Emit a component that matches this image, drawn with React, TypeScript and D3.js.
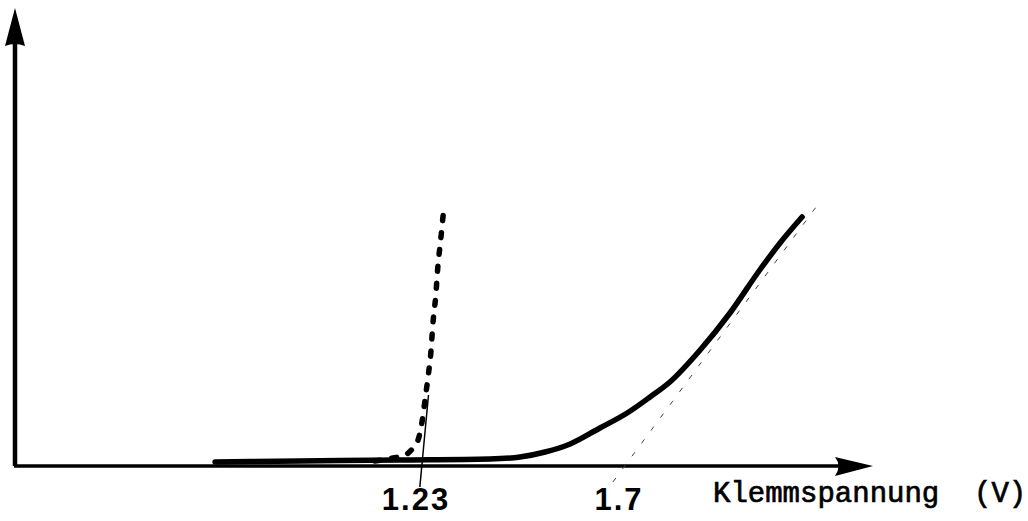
import React, { useEffect, useRef } from "react";
import * as d3 from "d3";

// Klemmspannung (V) vs. current (arbitrary units)
const solidVolt = [0.751, 0.948, 1.179, 1.387, 1.457, 1.515, 1.573, 1.642, 1.705, 1.758, 1.804, 1.874, 1.943, 2.012, 2.059, 2.11];
const solidCurr = [0.16, 0.2, 0.24, 0.28, 0.36, 0.56, 0.88, 1.52, 2.12, 2.76, 3.36, 4.64, 6.12, 7.84, 8.92, 9.96];

const dotVolt = [1.121, 1.163, 1.191, 1.209, 1.223, 1.23, 1.237, 1.244, 1.251, 1.255, 1.262, 1.267, 1.272, 1.279];
const dotCurr = [0.2, 0.32, 0.44, 0.72, 1.16, 1.76, 2.64, 3.56, 4.64, 5.64, 6.84, 8.04, 8.84, 10.04];

// helper lines through the two marked voltages
const tanRevVolt = [1.225, 1.245];
const tanRevCurr = [-0.84, 2.84];
const tanSolidVolt = [1.672, 2.151];
const tanSolidCurr = [-0.64, 10.56];

const tickValues = [1.23, 1.7];
const tickLabels = ["1.23", "1.7"];
const xTitle = "Klemmspannung  (V)";

const App = () => {
  const tWidth = 1028;
  const tHeight = 521;
  const ref = useRef(null);

  useEffect(() => {
    const svg = d3.select(ref.current);
    svg.selectAll("*").remove();

    const x = d3.scaleLinear().domain([1.23, 1.7]).range([422, 625]);
    const y = d3.scaleLinear().domain([0, 10]).range([466, 216]);

    const originX = 14;
    const originY = y(0);

    // axes
    svg.append("line")
      .attr("x1", originX).attr("y1", originY)
      .attr("x2", 850).attr("y2", originY)
      .attr("stroke", "#000").attr("stroke-width", 3.5);
    svg.append("path")
      .attr("d", `M873,${originY} L835,${originY - 9} Q842,${originY} 835,${originY + 10} Z`)
      .attr("fill", "#000");

    svg.append("line")
      .attr("x1", originX + 1).attr("y1", originY)
      .attr("x2", originX + 1).attr("y2", 40)
      .attr("stroke", "#000").attr("stroke-width", 4.5);
    svg.append("path")
      .attr("d", "M15,8 L5,46 Q15,42 25,46 Z")
      .attr("fill", "#000");

    const line = d3.line<[number, number]>()
      .x((d) => x(d[0]))
      .y((d) => y(d[1]))
      .curve(d3.curveMonotoneX);

    // thin helper lines
    svg.append("path")
      .datum(d3.zip(tanRevVolt, tanRevCurr))
      .attr("d", line as any)
      .attr("fill", "none")
      .attr("stroke", "#000")
      .attr("stroke-width", 1.5);
    svg.append("path")
      .datum(d3.zip(tanSolidVolt, tanSolidCurr))
      .attr("d", line as any)
      .attr("fill", "none")
      .attr("stroke", "#444")
      .attr("stroke-width", 1)
      .attr("stroke-dasharray", "5 11");

    //Curves
    svg.append("path")
      .datum(d3.zip(dotVolt, dotCurr))
      .attr("d", line as any)
      .attr("fill", "none")
      .attr("stroke", "#000")
      .attr("stroke-width", 5.5)
      .attr("stroke-linecap", "round")
      .attr("stroke-dasharray", "5 12");

    svg.append("path")
      .datum(d3.zip(solidVolt, solidCurr))
      .attr("d", line as any)
      .attr("fill", "none")
      .attr("stroke", "#000")
      .attr("stroke-width", 5.5)
      .attr("stroke-linecap", "round");

    // tick labels
    svg.selectAll("text.tick")
      .data(tickValues)
      .join("text")
      .attr("class", "tick")
      .attr("x", (d) => x(d) - 6)
      .attr("y", 510)
      .attr("text-anchor", "middle")
      .attr("font-family", "Liberation Sans, Arial, sans-serif")
      .attr("font-size", 31)
      .attr("font-weight", "bold")
      .attr("letter-spacing", 2)
      .text((d, i) => tickLabels[i]);

    svg.append("text")
      .attr("x", 713)
      .attr("y", 502)
      .attr("font-family", "Liberation Mono, Courier New, monospace")
      .attr("font-size", 29)
      .attr("stroke", "#000")
      .attr("stroke-width", 0.7)
      .style("white-space", "pre")
      .text(xTitle);
  }, []);

  return (
    <svg
      ref={ref}
      width={tWidth}
      height={tHeight}
      style={{ position: "fixed", left: 0, top: 0, background: "#fff" }}
    ></svg>
  );
};

export default App;
